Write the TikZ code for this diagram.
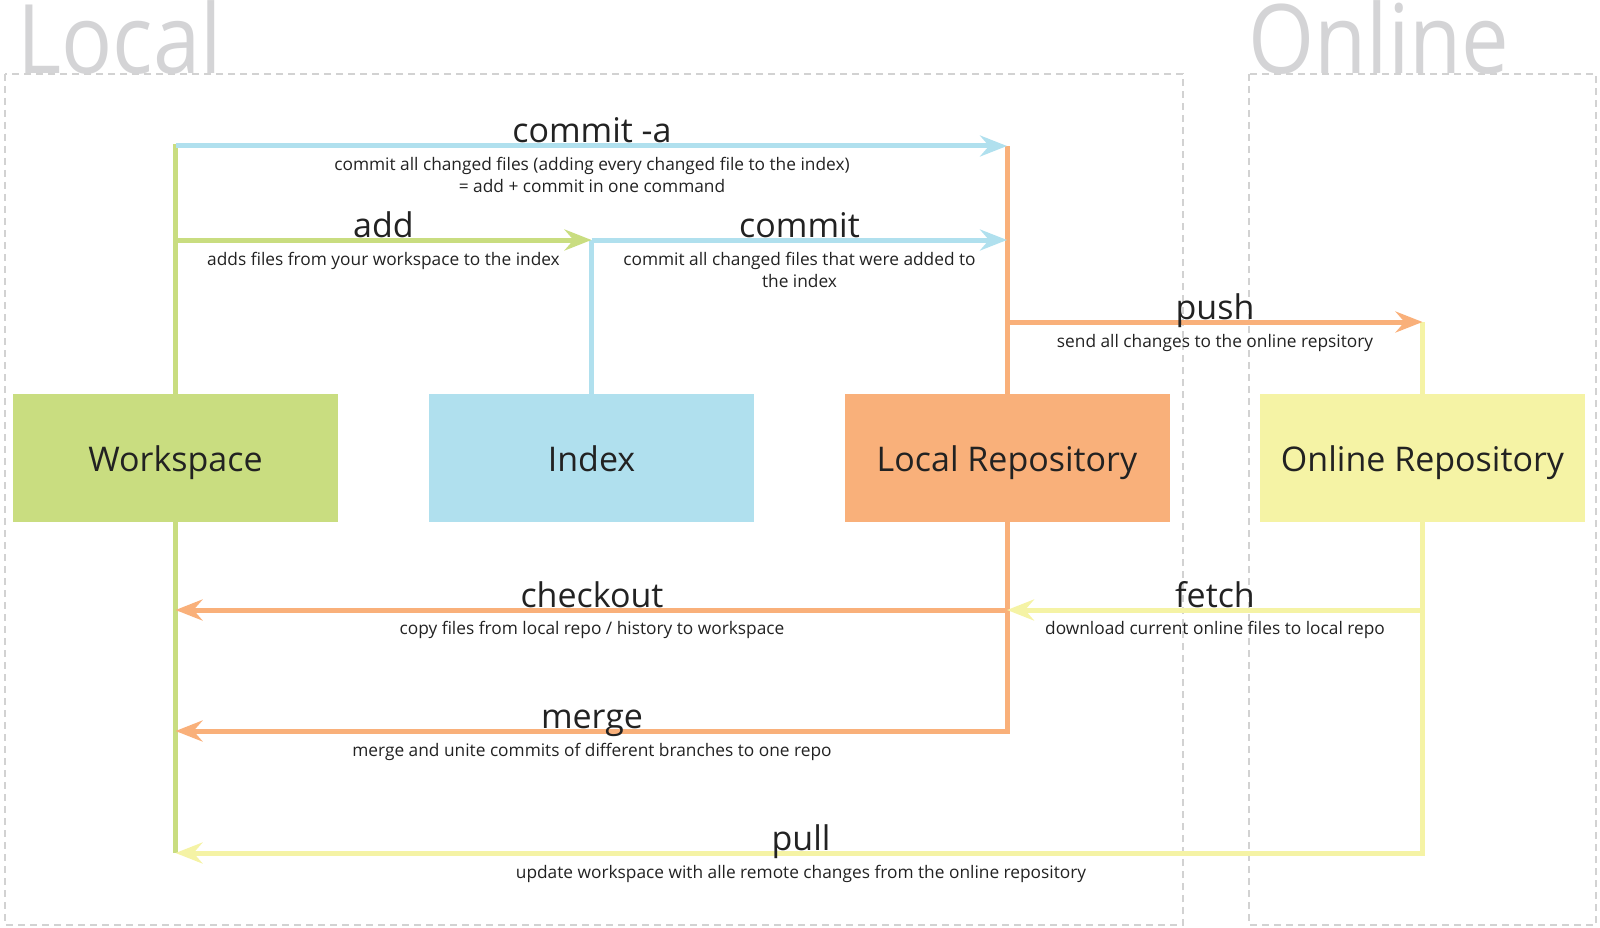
\documentclass[tikz,border=0pt]{standalone}
\usepackage{fontspec}
\setmainfont{Open Sans}
\usetikzlibrary{arrows.meta}
\definecolor{cgreen}{HTML}{C9DD80}
\definecolor{cblue}{HTML}{B0E0EE}
\definecolor{corange}{HTML}{F9B07A}
\definecolor{cyellow}{HTML}{F5F3A5}
\definecolor{cdash}{HTML}{D2D2D2}
\definecolor{ctext}{HTML}{222222}
\definecolor{cbig}{HTML}{D4D4D6}
\begin{document}
\begin{tikzpicture}[x=1pt,y=-1pt,
  box/.style={minimum width=325pt,minimum height=128pt,inner sep=0pt,text=ctext,
    text height=26pt,text depth=0pt,font=\fontsize{34}{40}\selectfont},
  conn/.style={line width=5pt},
  arr/.style={conn,-{Stealth[length=27pt,width=21pt,inset=9pt]}},
  lbl/.style={anchor=base,text=ctext,font=\fontsize{34}{38}\selectfont,inner sep=0pt},
  dsc/.style={anchor=base,text=ctext,font=\fontsize{17.3}{22}\selectfont,inner sep=0pt},
  zone/.style={draw=cdash,line width=2pt,dash pattern=on 7pt off 5pt},
  big/.style={anchor=base west,text=cbig,font=\fontsize{96}{100}\selectfont,inner sep=0pt}]
\useasboundingbox (0,0) rectangle (1600,928);
% zones
\draw[zone] (5,74) rectangle (1183,925);
\draw[zone] (1249,74) rectangle (1596,925);
\node[big] (tlocal) at (17,74) {\scalebox{0.885}[1]{Local}};
\node[big] (tonline) at (1248,74) {\scalebox{0.885}[1]{Online}};
% boxes
\node[box,fill=cgreen] (ws) at (175.5,458) {Workspace};
\node[box,fill=cblue] (idx) at (591.5,458) {Index};
\node[box,fill=corange] (lr) at (1007,458) {Local Repository};
\node[box,fill=cyellow] (or) at (1422.5,458) {Online Repository};
% junction coordinates
\coordinate (wsA) at (175.5,144);
\coordinate (lrA) at (1007,146);
\coordinate (wsB) at (175.5,240);
\coordinate (idxB) at (591.5,240);
\coordinate (lrB) at (1007,240);
\coordinate (lrC) at (1007,322);
\coordinate (orC) at (1422.5,322);
\coordinate (lrD) at (1007,610);
\coordinate (wsD) at (175.5,610);
\coordinate (orD) at (1422.5,610);
\coordinate (wsE) at (175.5,731);
\coordinate (wsF) at (175.5,853);
% vertical trunks
\draw[conn,cgreen] (ws.north) -- (wsA);
\draw[conn,cgreen] (ws.south) -- (wsF);
\draw[conn,corange] (lr.north) -- (lrA);
\draw[conn,cblue] (idx.north) -- (idxB);
\draw[conn,cyellow] (or.north) -- (orC);
% arrows
\draw[arr,cblue] (wsA |- lrA) -- (lrA);
\draw[arr,cgreen] (wsB) -- (idxB);
\draw[arr,cblue] (idxB) -- (lrB);
\draw[arr,corange] (lrC) -- (orC);
\draw[arr,corange] (lrD) -- (wsD);
\draw[arr,corange] (lr.south) |- (wsE);
\draw[arr,cyellow] (orD) -- (lrD);
\draw[arr,cyellow] (or.south) |- (wsF);
% labels
\node[lbl] (lcma) at (592,143) {commit -a};
\node[dsc] (dcma1) at (592,171) {commit all changed files (adding every changed file to the index)};
\node[dsc] (dcma2) at (592,193) {= add + commit in one command};
\node[lbl] (ladd) at (383.5,237) {add};
\node[dsc] (dadd) at (383.5,265) {adds files from your workspace to the index};
\node[lbl] (lcm) at (799.5,237) {commit};
\node[dsc] (dcm1) at (799.5,265) {commit all changed files that were added to};
\node[dsc] (dcm2) at (799.5,287) {the index};
\node[lbl] (lpush) at (1215,319) {push};
\node[dsc] (dpush) at (1215,347) {send all changes to the online repsitory};
\node[lbl] (lco) at (592,607) {checkout};
\node[dsc] (dco) at (592,634) {copy files from local repo / history to workspace};
\node[lbl] (lfetch) at (1215,607) {fetch};
\node[dsc] (dfetch) at (1215,634) {download current online files to local repo};
\node[lbl] (lmerge) at (592,728) {merge};
\node[dsc] (dmerge) at (592,756) {merge and unite commits of different branches to one repo};
\node[lbl] (lpull) at (801,850) {pull};
\node[dsc] (dpull) at (801,878) {update workspace with alle remote changes from the online repository};
\end{tikzpicture}
\end{document}
